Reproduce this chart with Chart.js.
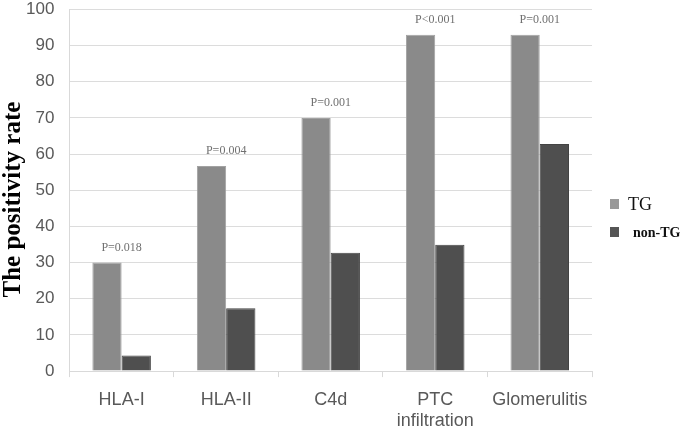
<!DOCTYPE html>
<html lang="en">
<head>
<meta charset="UTF-8">
<title>The positivity rate</title>
<script src="https://cdn.jsdelivr.net/npm/chart.js@4.4.1/dist/chart.umd.min.js"></script>
<style>
  html, body { margin: 0; padding: 0; background: #fff; }
  #wrap { position: relative; width: 685px; height: 431px; }
</style>
</head>
<body>
<div id="wrap"><canvas id="myChart" width="685" height="431"></canvas></div>
<script>
// data
var categories = ['HLA-I', 'HLA-II', 'C4d', ['PTC', 'infiltration'], 'Glomerulitis'];
var tgValues = [30, 56.7, 70, 93, 93];
var nonTgValues = [4.3, 17.4, 32.7, 34.9, 62.8];
var pValues = ['P=0.018', 'P=0.004', 'P=0.001', 'P<0.001', 'P=0.001'];
var yTicks = [0, 10, 20, 30, 40, 50, 60, 70, 80, 90, 100];

// P value text above each group
var pLabels = {
  id: 'pLabels',
  afterDatasetsDraw: function(chart) {
    var ctx = chart.ctx;
    var x = chart.scales.x, y = chart.scales.y;
    ctx.save();
    ctx.font = '12px "Liberation Serif", serif';
    ctx.fillStyle = '#707070';
    ctx.textAlign = 'center';
    ctx.textBaseline = 'middle';
    pValues.forEach(function(txt, i) {
      var top = Math.max(tgValues[i], nonTgValues[i]);
      ctx.fillText(txt, x.getPixelForValue(i), y.getPixelForValue(top) - 15);
    });
    ctx.restore();
  }
};

// legend on the right, drawn by hand (the two entries use different fonts)
var sideLegend = {
  id: 'sideLegend',
  afterDraw: function(chart) {
    var ctx = chart.ctx;
    var items = [
      { text: chart.data.datasets[0].label, color: '#999999', font: '18px "Liberation Serif", serif', tx: 628, cy: 204 },
      { text: chart.data.datasets[1].label, color: '#555555', font: 'bold 14px "Liberation Serif", serif', tx: 633, cy: 232 }
    ];
    ctx.save();
    ctx.textBaseline = 'middle';
    ctx.textAlign = 'left';
    items.forEach(function(it) {
      ctx.fillStyle = it.color;
      ctx.fillRect(610, it.cy - 5, 9, 10);
      ctx.fillStyle = '#111';
      ctx.font = it.font;
      ctx.fillText(it.text, it.tx, it.cy + 1);
    });
    ctx.restore();
  }
};

var ctx = document.getElementById('myChart').getContext('2d');
var myChart = new Chart(ctx, {
  type: 'bar',
  data: {
    labels: categories,
    datasets: [{
      label: 'TG',
      data: tgValues,
      backgroundColor: '#8a8a8a',
      borderColor: '#a2a2a2',
      borderWidth: 1,
      barPercentage: 1,
      categoryPercentage: 0.56
    }, {
      label: 'non-TG',
      data: nonTgValues,
      backgroundColor: '#4f4f4f',
      borderColor: '#444444',
      borderWidth: 1,
      barPercentage: 1,
      categoryPercentage: 0.56
    }]
  },
  options: {
    responsive: false,
    animation: false,
    layout: { padding: { left: 1, top: 0, bottom: -12.5, right: 93 } },
    plugins: {
      tooltip: { enabled: false },
      legend: { display: false }
    },
    scales: {
      x: {
        grid: { drawOnChartArea: false, drawTicks: true, tickLength: 6, color: '#d9d9d9' },
        border: { display: true, color: '#d9d9d9' },
        ticks: {
          color: '#595959', padding: 12.5, maxRotation: 0,
          font: { family: '"Liberation Sans", Arial, sans-serif', size: 18, lineHeight: 1.15 }
        }
      },
      y: {
        min: 0,
        max: 100,
        afterBuildTicks: function(axis) {
          axis.ticks = yTicks.map(function(v) { return { value: v }; });
        },
        grid: { color: '#dcdcdc', drawTicks: true, tickLength: 15, tickColor: 'rgba(0,0,0,0)' },
        border: { display: true, color: '#d9d9d9' },
        ticks: { color: '#595959', padding: 0, font: { family: '"Liberation Sans", Arial, sans-serif', size: 17, lineHeight: 1.1 } },
        title: {
          display: true,
          // trailing spaces push the visible text a little lower, as in the original
          text: 'The positivity rate   ',
          color: '#000',
          padding: { top: 0, bottom: 0 },
          font: { family: '"Liberation Serif", "Times New Roman", serif', size: 25, weight: 'bold', lineHeight: 1 }
        }
      }
    }
  },
  plugins: [pLabels, sideLegend]
});
</script>
</body>
</html>
